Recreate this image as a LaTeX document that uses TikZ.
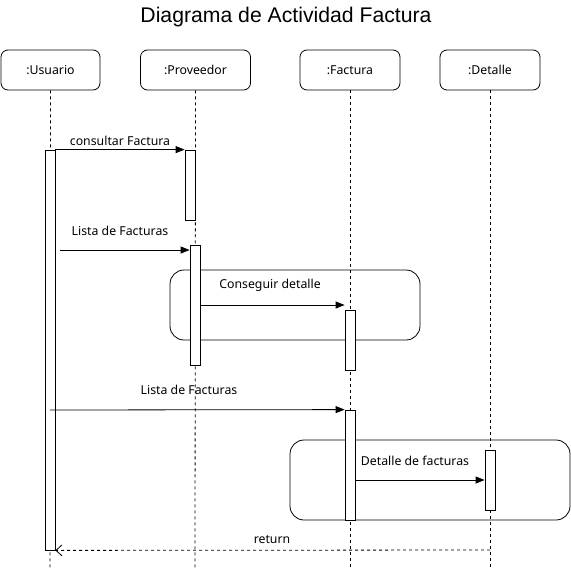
\documentclass[tikz,border=0pt]{standalone}
\usepackage{fontspec}
\setmainfont{Liberation Sans}
\newfontfamily\lblfont{Noto Sans}
\usetikzlibrary{arrows.meta,calc}
\begin{document}
\begin{tikzpicture}[x=1pt,y=-1pt,
  hdr/.style={draw, rounded corners=7pt, minimum height=40pt, inner sep=0pt, font=\lblfont\fontsize{12.3}{14}\selectfont, line width=0.8pt},
  act/.style={draw, fill=white, minimum width=10pt, inner sep=0pt, line width=0.8pt},
  frag/.style={draw, rounded corners=14pt, inner sep=0pt, line width=0.8pt},
  life/.style={dash pattern=on 3pt off 3pt, line width=0.8pt},
  msg/.style={-{Triangle[length=9pt,width=7pt]}, line width=0.8pt},
  ret/.style={-{Straight Barb[length=6pt,width=11pt,line width=0.8pt]}, dash pattern=on 3pt off 3pt, line width=0.8pt},
  lbl/.style={font=\lblfont\fontsize{12.3}{14}\selectfont, inner sep=0pt}]
\useasboundingbox (0,0) rectangle (571,571);
\node[font=\fontsize{21.2}{24}\selectfont] (title) at (286,17) {Diagrama de Actividad Factura};
% headers
\node[hdr, minimum width=99pt] (hu) at (50.5,70) {:Usuario};
\node[hdr, minimum width=110pt] (hp) at (195.5,70) {:Proveedor};
\node[hdr, minimum width=100pt] (hf) at (350,70) {:Factura};
\node[hdr, minimum width=100pt] (hd) at (490,70) {:Detalle};
% lifeline ends
\coordinate (eu) at (50,570);
\coordinate (ep) at (195,570);
\coordinate (ef) at (350,570);
\coordinate (ed) at (490,570);
\draw[life] (hu.south) -- (eu);
\draw[life] (hp.south) -- (ep);
\draw[life] (hf.south) -- (ef);
\draw[life] (hd.south) -- (ed);
% fragments
\node[frag, minimum width=250pt, minimum height=70pt] (f1) at (295,305) {};
\node[frag, minimum width=280pt, minimum height=80pt] (f2) at (430,480) {};
% activations
\node[act, minimum height=400pt] (ua) at (50,350) {};
\node[act, minimum height=70pt] (pa1) at (190,185) {};
\node[act, minimum height=120pt] (pa2) at (195,305) {};
\node[act, minimum height=60pt] (fa1) at (350,340) {};
\node[act, minimum height=110pt] (fa2) at (350,465) {};
\node[act, minimum height=60pt] (da) at (490,480) {};
% messages
\draw[msg] (ua.north east) -- (pa1.north west);
\node[lbl] (l1) at (120,141) {consultar Factura};
\coordinate (s2) at (60,250);
\draw[msg] (s2) -- (s2 -| pa2.west);
\node[lbl] (l2) at (120,231) {Lista de Facturas};
\coordinate (s3) at (200,305);
\draw[msg] (s3) -- (s3 -| fa1.west);
\node[lbl] (l3) at (270,285) {Conseguir detalle};
\coordinate (s4) at (50,410);
\draw[msg] (s4) -- (fa2.north west);
\node[lbl] (l4) at (189,390) {Lista de Facturas};
\coordinate (s5) at (355,480);
\draw[msg] (s5) -- (s5 -| da.west);
\node[lbl] (l5) at (415,461) {Detalle de facturas};
\coordinate (s6) at (490,550);
\draw[ret] (s6) -- (ua.south east);
\node[lbl] (l6) at (272,540) {return};
\end{tikzpicture}
\end{document}
